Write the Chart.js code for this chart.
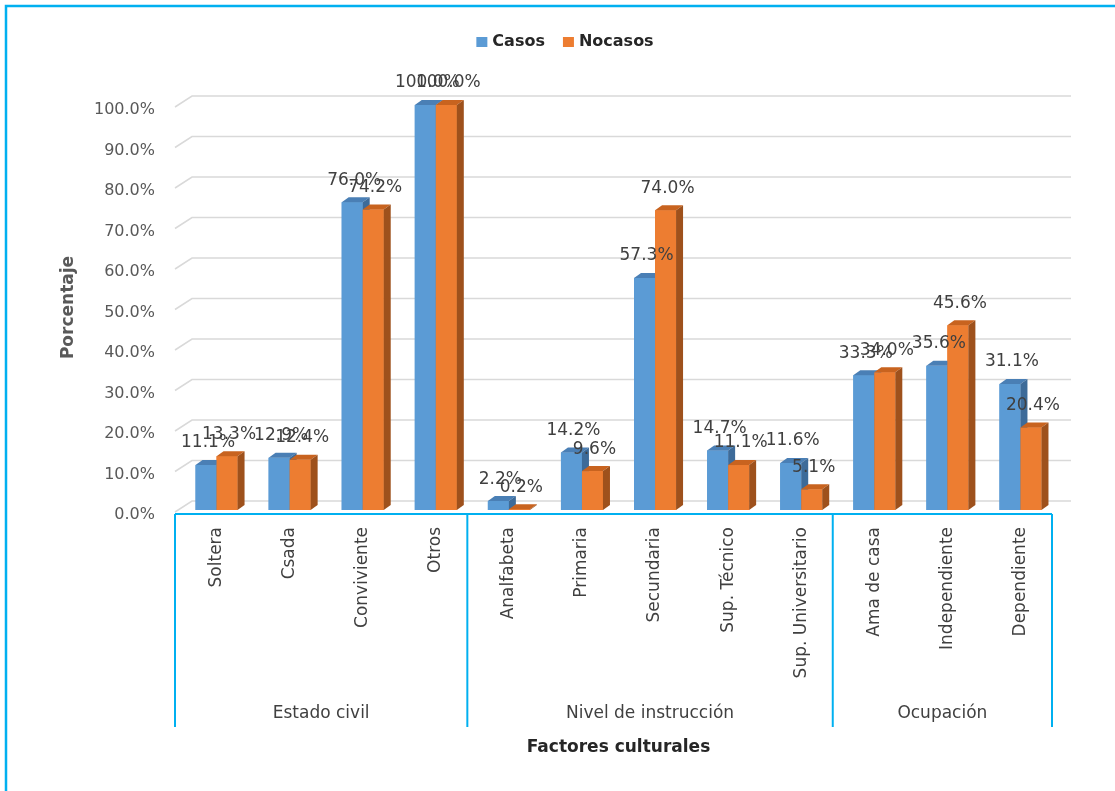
<!DOCTYPE html>
<html>
<head>
<meta charset="utf-8">
<script src="https://cdn.jsdelivr.net/npm/chart.js@4/dist/chart.umd.min.js"></script>
<style>
  html, body { margin: 0; padding: 0; background: #ffffff; }
  canvas { display: block; }
</style>
</head>
<body>
<canvas id="c" width="1115" height="791"></canvas>
<script>
// ---- data ----
const categories = ['Soltera', 'Csada', 'Conviviente', 'Otros', 'Analfabeta', 'Primaria', 'Secundaria', 'Sup. Técnico', 'Sup. Universitario', 'Ama de casa', 'Independiente', 'Dependiente'];
const groupLabels = ['Estado civil', 'Nivel de instrucción', 'Ocupación'];
const groupSizes = [4, 5, 3];
const casos = [11.1, 12.9, 76.0, 100.0, 2.2, 14.2, 57.3, 14.7, 11.6, 33.3, 35.6, 31.1];
const nocasos = [13.3, 12.4, 74.2, 100.0, 0.2, 9.6, 74.0, 11.1, 5.1, 34.0, 45.6, 20.4];
const seriesNames = ['Casos', 'Nocasos'];
const yTicks = [0, 10, 20, 30, 40, 50, 60, 70, 80, 90, 100];
const xTitle = 'Factores culturales';
const yTitle = 'Porcentaje';

// ---- styles ----
const FONT = '"DejaVu Sans", sans-serif';
const faceColors = [
  { front: '#5b9bd5', top: '#4a7fb5', side: '#3d6b99' },
  { front: '#ed7d31', top: '#c8631f', side: '#9e511c' }
];
const CYAN = '#00b0f0';
const DX = 7, DY = 5;          // bar depth
const GX = 17, GY = 9;         // back wall offset
const AX_SHIFT = 5;            // axis frame offset left of bar area

const plugin3d = {
  id: 'plugin3d',
  beforeDatasetsDraw(chart) {
    const { ctx, chartArea, scales: { y } } = chart;
    ctx.save();
    ctx.strokeStyle = '#d9d9d9';
    ctx.lineWidth = 1.5;
    const x0 = chartArea.left - AX_SHIFT;
    yTicks.forEach(v => {
      const yf = y.getPixelForValue(v);
      ctx.beginPath();
      ctx.moveTo(x0, yf + 2);
      ctx.lineTo(x0 + GX, yf - GY);
      ctx.lineTo(chartArea.right + 14, yf - GY);
      ctx.stroke();
    });
    ctx.restore();
  },
  afterDatasetsDraw(chart) {
    const { ctx } = chart;
    const metas = [chart.getDatasetMeta(0), chart.getDatasetMeta(1)];
    ctx.save();
    for (let i = 0; i < categories.length; i++) {
      metas.forEach((meta, d) => {
        const el = meta.data[i];
        const { x, y, base, width } = el.getProps(['x', 'y', 'base', 'width'], true);
        const l = x - width / 2, r = x + width / 2;
        const c = faceColors[d];
        ctx.fillStyle = c.front;
        ctx.fillRect(l, y, width, base - y);
        ctx.fillStyle = c.top;
        ctx.beginPath();
        ctx.moveTo(l, y); ctx.lineTo(l + DX, y - DY); ctx.lineTo(r + DX, y - DY); ctx.lineTo(r, y);
        ctx.closePath(); ctx.fill();
        ctx.fillStyle = c.side;
        ctx.beginPath();
        ctx.moveTo(r, y); ctx.lineTo(r + DX, y - DY); ctx.lineTo(r + DX, base - DY); ctx.lineTo(r, base);
        ctx.closePath(); ctx.fill();
      });
    }
    // data labels
    ctx.font = '17px ' + FONT;
    ctx.fillStyle = '#404040';
    ctx.textAlign = 'center';
    ctx.textBaseline = 'middle';
    metas.forEach((meta, d) => {
      const vals = chart.data.datasets[d].data;
      meta.data.forEach((el, i) => {
        const { x, y } = el.getProps(['x', 'y'], true);
        ctx.fillText(vals[i].toFixed(1) + '%', x + 2, y - 22);
      });
    });
    ctx.restore();
  },
  afterDraw(chart) {
    const { ctx, chartArea, scales: { x } } = chart;
    ctx.save();
    // outer frame (top & left visible)
    ctx.strokeStyle = CYAN;
    ctx.lineWidth = 2.5;
    ctx.strokeRect(6, 6, 1200, 900);
    // category axis
    const step = (x.getPixelForValue(1) - x.getPixelForValue(0));
    const xL = chartArea.left - AX_SHIFT;
    const axisY = chartArea.bottom + 4;
    const sepBottom = 727;
    ctx.lineWidth = 2;
    ctx.beginPath();
    ctx.moveTo(xL, axisY);
    ctx.lineTo(xL + step * categories.length, axisY);
    ctx.stroke();
    let k = 0;
    const bounds = [0];
    groupSizes.forEach(n => { k += n; bounds.push(k); });
    bounds.forEach(b => {
      ctx.beginPath();
      ctx.moveTo(xL + step * b, axisY);
      ctx.lineTo(xL + step * b, sepBottom);
      ctx.stroke();
    });
    ctx.font = '17px ' + FONT;
    ctx.fillStyle = '#404040';
    ctx.textAlign = 'center';
    ctx.textBaseline = 'middle';
    groupLabels.forEach((g, j) => {
      const cx = xL + step * (bounds[j] + bounds[j + 1]) / 2;
      ctx.fillText(g, cx, 714);
    });
    // legend
    ctx.font = 'bold 16px ' + FONT;
    const sq = 11, gap = 5, itemGap = 18;
    const widths = seriesNames.map(s => ctx.measureText(s).width);
    const total = widths.reduce((a, w) => a + sq + gap + w, 0) + itemGap * (seriesNames.length - 1);
    let lx = 565 - total / 2;
    const ly = 42;
    ctx.textAlign = 'left';
    seriesNames.forEach((s, j) => {
      ctx.fillStyle = faceColors[j].front;
      ctx.fillRect(lx, ly - 5, sq, 10);
      ctx.fillStyle = '#262626';
      ctx.fillText(s, lx + sq + gap, ly);
      lx += sq + gap + widths[j] + itemGap;
    });
    ctx.restore();
  }
};

new Chart(document.getElementById('c'), {
  type: 'bar',
  data: {
    labels: categories,
    datasets: [
      { label: seriesNames[0], data: casos, backgroundColor: faceColors[0].front, borderWidth: 0 },
      { label: seriesNames[1], data: nocasos, backgroundColor: faceColors[1].front, borderWidth: 0 }
    ]
  },
  options: {
    responsive: false,
    animation: false,
    devicePixelRatio: 1,
    layout: { padding: { left: 50, right: 58, top: 105, bottom: 20 } },
    datasets: { bar: { categoryPercentage: 0.575, barPercentage: 1.0 } },
    plugins: { legend: { display: false }, tooltip: { enabled: false } },
    scales: {
      x: {
        grid: { display: false, drawTicks: false },
        border: { display: false },
        ticks: { minRotation: 90, maxRotation: 90, autoSkip: false, padding: 17,
                 font: { family: FONT, size: 17 }, color: '#404040' },
        title: { display: true, text: xTitle, color: '#262626',
                 font: { family: FONT, size: 17, weight: 'bold' }, padding: { top: 0, bottom: 13 } },
        afterFit: s => { s.height = 261; }
      },
      y: {
        min: 0, max: 100,
        grid: { display: false, drawTicks: false },
        border: { display: false },
        ticks: { stepSize: 10, padding: 25, labelOffset: 5, color: '#595959',
                 font: { family: FONT, size: 16 },
                 callback: v => Number(v).toFixed(1) + '%' },
        title: { display: true, text: yTitle, color: '#595959',
                 font: { family: FONT, size: 17, weight: 'bold' }, padding: { top: 8, bottom: 0 } },
        afterFit: s => { s.width = 130; }
      }
    }
  },
  plugins: [plugin3d]
});
</script>
</body>
</html>
